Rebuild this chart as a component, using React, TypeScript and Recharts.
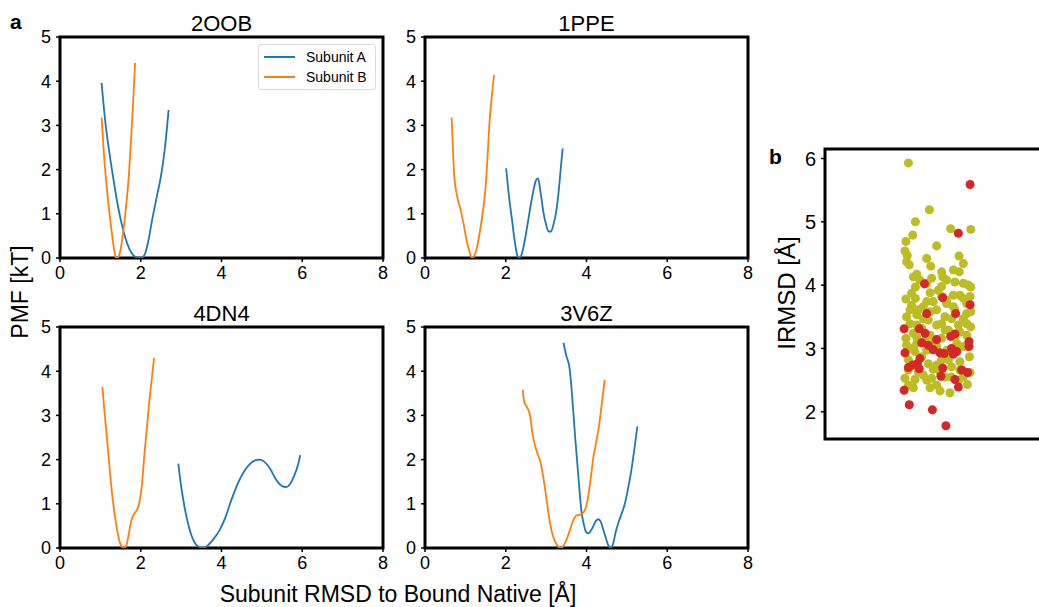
import { LineChart, Line, XAxis, YAxis, ReferenceArea, Legend, ScatterChart, Scatter, ZAxis } from 'recharts';

const FONT = '"Liberation Sans", Arial, sans-serif';
const BLUE = '#1f77b4';
const ORANGE = '#ff7f0e';
const OLIVE = '#bcbd22';
const RED = '#d62728';

const xTicks = [0, 2, 4, 6, 8];
const yTicks = [0, 1, 2, 3, 4, 5];
const irmsdTicks = [2, 3, 4, 5, 6];
const seriesNames = ['Subunit A', 'Subunit B'];
const panelTitles = ['2OOB', '1PPE', '4DN4', '3V6Z'];

// PMF curves, [rmsd, pmf]
const oobA = [[1.03, 3.96], [1.12, 3.1], [1.22, 2.4], [1.32, 1.8], [1.42, 1.25], [1.52, 0.8], [1.62, 0.45], [1.72, 0.2], [1.82, 0.06], [1.92, 0.01], [2.02, 0], [2.1, 0.08], [2.18, 0.35], [2.28, 0.85], [2.4, 1.4], [2.5, 1.85], [2.6, 2.5], [2.69, 3.35]];
const oobB = [[1.03, 3.18], [1.1, 2.2], [1.18, 1.4], [1.26, 0.75], [1.33, 0.25], [1.38, 0.02], [1.42, 0], [1.48, 0.1], [1.56, 0.55], [1.64, 1.2], [1.7, 1.8], [1.76, 2.7], [1.81, 3.5], [1.86, 4.41]];

const ppeA = [[2.01, 2.03], [2.08, 1.4], [2.15, 0.9], [2.22, 0.4], [2.28, 0.08], [2.33, 0], [2.38, 0.05], [2.44, 0.25], [2.52, 0.65], [2.6, 1.1], [2.68, 1.5], [2.75, 1.76], [2.8, 1.8], [2.86, 1.5], [2.93, 1.05], [3.0, 0.75], [3.06, 0.6], [3.12, 0.6], [3.18, 0.75], [3.25, 1.05], [3.31, 1.5], [3.36, 2.0], [3.41, 2.48]];
const ppeB = [[0.66, 3.18], [0.69, 2.5], [0.72, 1.91], [0.8, 1.38], [0.88, 1.1], [0.95, 0.8], [1.02, 0.45], [1.1, 0.15], [1.16, 0], [1.2, 0.02], [1.28, 0.21], [1.36, 0.6], [1.44, 1.1], [1.5, 1.6], [1.55, 2.3], [1.6, 3.1], [1.66, 3.7], [1.71, 4.14]];

const dn4A = [[2.93, 1.91], [3.0, 1.4], [3.08, 0.95], [3.16, 0.6], [3.25, 0.3], [3.35, 0.1], [3.45, 0.02], [3.55, 0], [3.65, 0.05], [3.8, 0.2], [3.95, 0.4], [4.1, 0.7], [4.25, 1.1], [4.4, 1.45], [4.55, 1.72], [4.7, 1.9], [4.85, 1.99], [4.95, 2.0], [5.05, 1.96], [5.2, 1.8], [5.35, 1.55], [5.5, 1.4], [5.6, 1.38], [5.7, 1.45], [5.8, 1.63], [5.9, 1.9], [5.95, 2.1]];
const dn4B = [[1.05, 3.64], [1.1, 3.1], [1.16, 2.52], [1.22, 1.9], [1.28, 1.31], [1.34, 0.85], [1.4, 0.5], [1.46, 0.2], [1.52, 0.04], [1.58, 0], [1.64, 0.05], [1.7, 0.3], [1.76, 0.6], [1.82, 0.75], [1.9, 0.85], [1.96, 1.0], [2.02, 1.35], [2.08, 2.0], [2.14, 2.6], [2.2, 3.2], [2.27, 3.8], [2.33, 4.3]];

const v6zA = [[3.43, 4.64], [3.5, 4.35], [3.58, 4.07], [3.63, 3.6], [3.68, 3.0], [3.72, 2.5], [3.76, 2.05], [3.8, 1.6], [3.84, 1.15], [3.88, 0.8], [3.93, 0.55], [3.98, 0.38], [4.04, 0.33], [4.1, 0.38], [4.17, 0.5], [4.24, 0.62], [4.3, 0.65], [4.36, 0.58], [4.42, 0.4], [4.48, 0.22], [4.54, 0.06], [4.6, 0], [4.66, 0.1], [4.72, 0.35], [4.8, 0.6], [4.88, 0.8], [4.95, 1.0], [5.02, 1.3], [5.1, 1.7], [5.18, 2.2], [5.26, 2.75]];
const v6zB = [[2.42, 3.58], [2.46, 3.3], [2.52, 3.2], [2.6, 3.01], [2.66, 2.6], [2.73, 2.3], [2.8, 2.1], [2.87, 1.91], [2.93, 1.6], [2.98, 1.3], [3.04, 0.9], [3.1, 0.55], [3.16, 0.3], [3.22, 0.15], [3.3, 0.03], [3.36, 0], [3.42, 0.04], [3.5, 0.18], [3.58, 0.38], [3.66, 0.6], [3.74, 0.73], [3.82, 0.75], [3.9, 0.78], [3.97, 0.88], [4.03, 1.1], [4.1, 1.55], [4.17, 2.05], [4.24, 2.4], [4.3, 2.7], [4.37, 3.2], [4.45, 3.8]];

// strip plot, [jitter, irmsd]
const olivePts = [
  [-0.131, 5.93], [-0.038, 5.19], [-0.1, 5.0], [0.056, 4.89], [0.145, 4.88], [-0.112, 4.79], [-0.142, 4.69], [-0.006, 4.62],
  [-0.146, 4.54], [-0.136, 4.47], [0.093, 4.46], [-0.05, 4.42], [-0.139, 4.37], [0.112, 4.34], [-0.032, 4.3], [-0.127, 4.32],
  [0.016, 4.21], [0.068, 4.24], [0.094, 4.21], [-0.094, 4.17], [-0.109, 4.13], [-0.028, 4.11], [0.021, 4.13], [0.112, 4.03],
  [0.134, 4.0], [0.145, 3.97], [-0.1, 3.97], [0.016, 3.98], [0.001, 3.92], [-0.035, 3.88], [0.097, 3.84], [-0.142, 3.78],
  [-0.1, 3.79], [0.112, 3.79], [0.127, 3.71], [-0.021, 3.74], [0.038, 3.71], [-0.117, 3.68], [-0.065, 3.66], [0.068, 3.66],
  [-0.006, 3.61], [0.145, 3.58], [-0.139, 3.5], [-0.094, 3.53], [0.031, 3.5], [0.112, 3.47], [-0.043, 3.45], [-0.124, 3.39],
  [-0.006, 3.37], [0.09, 3.37], [0.145, 3.34], [-0.072, 3.32], [0.046, 3.29], [-0.109, 3.24], [0.127, 3.21], [-0.035, 3.21],
  [-0.142, 3.16], [0.016, 3.16], [0.083, 3.08], [-0.094, 3.08], [-0.139, 3.05], [0.112, 3.03], [-0.006, 3.03], [-0.05, 2.97],
  [-0.102, 2.95], [0.068, 2.92], [0.139, 2.87], [-0.131, 2.82], [0.016, 2.82], [0.097, 2.79], [-0.043, 2.76], [-0.094, 2.74],
  [0.06, 2.71], [-0.021, 2.67], [-0.131, 2.66], [0.119, 2.63], [0.142, 2.62], [-0.065, 2.58], [0.031, 2.55], [-0.146, 2.53],
  [-0.102, 2.51], [-0.05, 2.5], [0.09, 2.49], [-0.006, 2.42], [0.13, 2.43], [-0.109, 2.38], [-0.035, 2.38], [0.009, 2.33],
  [0.053, 2.3], [-0.08, 4.08], [-0.05, 4.03], [0.038, 4.08], [0.075, 4.05], [-0.117, 3.87], [0.068, 3.84], [0.016, 3.82],
  [0.142, 3.82], [-0.05, 3.74], [0.075, 3.61], [-0.087, 3.61], [-0.035, 3.58], [0.127, 3.55], [0.016, 3.39], [0.06, 3.47],
  [-0.065, 3.47], [-0.094, 3.37], [0.097, 3.26], [0.075, 3.18], [-0.057, 3.13], [-0.013, 3.13], [-0.117, 3.0], [0.038, 2.97],
  [0.134, 3.03], [-0.072, 2.87], [0.046, 2.82], [-0.006, 2.74], [-0.117, 2.74], [0.097, 2.66], [0.009, 2.63], [0.06, 2.55],
  [-0.087, 2.63], [-0.028, 2.53], [-0.131, 2.42], [0.112, 2.55], [0.038, 3.76], [-0.094, 3.18], [0.031, 3.29], [0.127, 3.39],
  [-0.124, 3.61],
];
const redPts = [
  [0.142, 5.59], [0.09, 4.82], [-0.06, 4.02], [0.021, 3.8], [0.142, 3.69], [-0.05, 3.55], [0.078, 3.55], [-0.15, 3.31],
  [-0.083, 3.31], [-0.057, 3.24], [-0.006, 3.14], [0.056, 3.19], [0.075, 3.23], [-0.072, 3.09], [0.137, 3.11], [0.137, 3.03],
  [-0.043, 3.05], [-0.021, 2.98], [-0.146, 2.93], [0.009, 2.93], [0.028, 2.92], [0.06, 3.0], [0.083, 2.95], [0.068, 2.91],
  [-0.08, 2.84], [-0.091, 2.76], [-0.112, 2.74], [-0.131, 2.7], [-0.083, 2.68], [0.021, 2.69], [0.105, 2.66], [0.131, 2.62],
  [0.013, 2.56], [0.075, 2.51], [0.09, 2.39], [-0.15, 2.34], [-0.127, 2.11], [-0.025, 2.03], [0.035, 1.78],
];

const toXY = (arr: number[][]) => arr.map(([x, y]) => ({ x, y }));

const PW = 323;
const PH = 221;
const YW = 52;
const MT = 30;

const tickStyle = { fill: '#000', fontSize: 18, fontFamily: FONT };

function LegendBox() {
  const colors = [BLUE, ORANGE];
  return (
    <div style={{ boxSizing: 'border-box', width: 118, border: '1px solid #d9d9d9', borderRadius: 3, background: '#fff', padding: '2px 0 2px 5px', fontFamily: FONT, fontSize: 14, whiteSpace: 'nowrap' }}>
      {seriesNames.map((n, i) => (
        <div key={n} style={{ display: 'flex', alignItems: 'center', height: 20 }}>
          <div style={{ flex: 'none', width: 31, height: 0, borderTop: `2px solid ${colors[i]}`, marginRight: 11 }} />
          <span style={{ color: '#000' }}>{n}</span>
        </div>
      ))}
    </div>
  );
}

function PmfPanel({ title, a, b, x, y, legend }: any) {
  return (
    <>
      <div style={{ position: 'absolute', left: x, top: y - 26, width: PW, height: 26, lineHeight: '26px', textAlign: 'center', fontFamily: FONT, fontSize: 22 }}>{title}</div>
      <div style={{ position: 'absolute', left: x - YW, top: y - MT }}>
        <LineChart width={YW + PW + 10} height={MT + PH + 40} margin={{ top: MT, right: 10, bottom: 10, left: 0 }}>
          <XAxis type="number" dataKey="x" domain={[0, 8]} ticks={xTicks} allowDataOverflow axisLine={false} tickSize={4} tickMargin={4} height={30} tick={tickStyle} tickLine={{ stroke: '#000', strokeWidth: 1.5 }} />
          <YAxis type="number" dataKey="y" domain={[0, 5]} ticks={yTicks} allowDataOverflow axisLine={false} tickSize={4} tickMargin={5} width={YW} tick={tickStyle} tickLine={{ stroke: '#000', strokeWidth: 1.5 }} />
          <ReferenceArea x1={0} x2={8} y1={0} y2={5} fill="none" fillOpacity={0} stroke="#000" strokeWidth={3} />
          <Line data={toXY(a)} dataKey="y" name={seriesNames[0]} type="monotone" stroke={BLUE} strokeWidth={1.8} dot={false} activeDot={false} isAnimationActive={false} />
          <Line data={toXY(b)} dataKey="y" name={seriesNames[1]} type="monotone" stroke={ORANGE} strokeWidth={1.8} dot={false} activeDot={false} isAnimationActive={false} />
          {legend && (
            <Legend layout="vertical" align="center" verticalAlign="middle" content={() => <LegendBox />} wrapperStyle={{ top: MT + 7, left: YW + PW - 7 - 118, width: 118, height: 'auto' }} />
          )}
        </LineChart>
      </div>
    </>
  );
}

function StripPanel() {
  const left = 825;
  const top = 149;
  const h = 290;
  const w = 226;
  return (
    <div style={{ position: 'absolute', left: left - YW, top: top - 10 }}>
      <ScatterChart width={YW + w + 10} height={h + 20} margin={{ top: 10, right: 10, bottom: 10, left: 0 }}>
        <XAxis type="number" dataKey="x" domain={[-0.5, 0.5]} hide allowDataOverflow />
        <YAxis type="number" dataKey="y" domain={[1.57, 6.15]} ticks={irmsdTicks} allowDataOverflow axisLine={false} tickSize={4} tickMargin={5} width={YW} tick={{ ...tickStyle, fontSize: 20 }} tickLine={{ stroke: '#000', strokeWidth: 1.5 }} />
        <ZAxis range={[85, 85]} />
        <ReferenceArea x1={-0.5} x2={0.5} y1={1.57} y2={6.15} fill="none" fillOpacity={0} stroke="#000" strokeWidth={3} />
        <Scatter data={toXY(olivePts)} fill={OLIVE} isAnimationActive={false} />
        <Scatter data={toXY(redPts)} fill={RED} isAnimationActive={false} />
      </ScatterChart>
    </div>
  );
}

export default function App() {
  return (
    <div style={{ position: 'absolute', left: 0, top: 0, width: 1039, height: 607, overflow: 'hidden', background: '#fff', fontFamily: FONT }}>
      <div style={{ position: 'absolute', left: 10, top: 10, fontSize: 21, fontWeight: 'bold', lineHeight: '24px' }}>a</div>
      <div style={{ position: 'absolute', left: 769, top: 145, fontSize: 21, fontWeight: 'bold', lineHeight: '24px' }}>b</div>

      <PmfPanel title={panelTitles[0]} a={oobA} b={oobB} x={60} y={37} legend />
      <PmfPanel title={panelTitles[1]} a={ppeA} b={ppeB} x={425} y={37} />
      <PmfPanel title={panelTitles[2]} a={dn4A} b={dn4B} x={60} y={327} />
      <PmfPanel title={panelTitles[3]} a={v6zA} b={v6zB} x={425} y={327} />

      <div style={{ position: 'absolute', left: 20, top: 292, transform: 'translate(-50%, -50%) rotate(-90deg)', whiteSpace: 'nowrap', fontSize: 23 }}>PMF [kT]</div>
      <div style={{ position: 'absolute', left: 398, top: 594, transform: 'translate(-50%, -50%)', whiteSpace: 'nowrap', fontSize: 23 }}>Subunit RMSD to Bound Native [Å]</div>
      <div style={{ position: 'absolute', left: 787, top: 293, transform: 'translate(-50%, -50%) rotate(-90deg)', whiteSpace: 'nowrap', fontSize: 24 }}>IRMSD [Å]</div>

      <StripPanel />
    </div>
  );
}
